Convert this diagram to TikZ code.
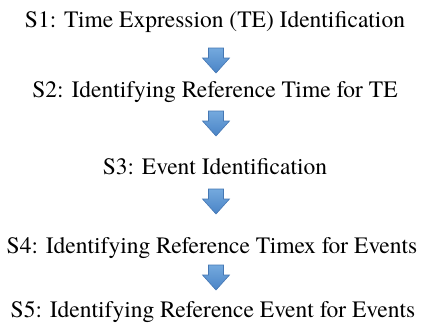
\documentclass[tikz,border=0pt]{standalone}
\usepackage{fontspec}
\newfontfamily\tnr{TeX Gyre Termes}
\usepackage{xcolor}
\usepackage{tikz}
\usetikzlibrary{positioning}
\definecolor{stInk}{HTML}{000000}
\definecolor{arTop}{HTML}{74A9DE}
\definecolor{arBot}{HTML}{4A84C6}
\definecolor{arLine}{HTML}{4577B3}
\tikzset{
  stxt/.style={anchor=base,inner sep=0pt,
    font=\tnr\fontsize{23.5}{27}\selectfont,text=stInk},
  barr/.style={top color=arTop,bottom color=arBot,
    draw=arLine,line width=0.6pt,line join=miter},
  downarr/.pic={
    \path[barr] (-7.5,0) -- (7.5,0) -- (7.5,-10) -- (13.5,-10)
      -- (0,-25) -- (-13.5,-10) -- (-7.5,-10) -- cycle;},
}
\begin{document}
\begin{tikzpicture}[x=1pt,y=1pt]
  \useasboundingbox (0,0) rectangle (424,325);

  \node[stxt] (s1) at (215,298) {S1: Time Expression (TE) Identification};
  \node[stxt] (s2) at (215,228) {S2: Identifying Reference Time for TE};
  \node[stxt] (s3) at (215,151) {S3: Event Identification};
  \node[stxt] (s4) at (212,72)  {S4: Identifying Reference Timex for Events};
  \node[stxt] (s5) at (213,8)   {S5: Identifying Reference Event for Events};

  % block arrows between the steps
  \foreach \n/\y in {a1/277,a2/214,a3/136,a4/60}
    \pic (\n) at (216,\y) {downarr};

\end{tikzpicture}
\end{document}
